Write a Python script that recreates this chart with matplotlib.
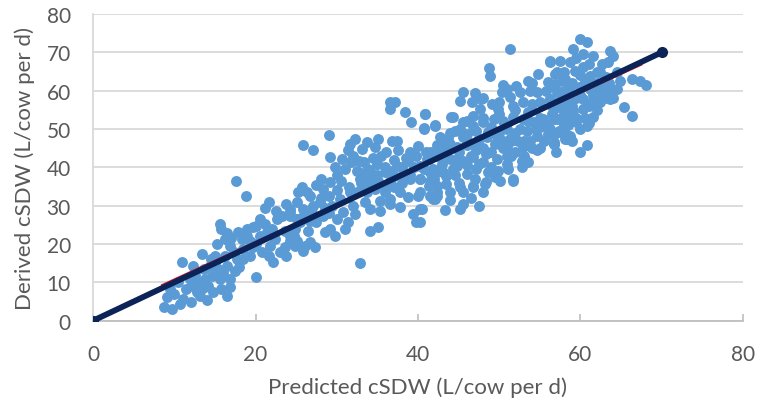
import matplotlib
matplotlib.use("Agg")
import matplotlib.pyplot as plt
import numpy as np

# predicted vs derived cSDW
band_low = [
    (17.6, 36.5), (18.8, 32.4), (21.6, 30.9), (21.2, 29.3), (23.8, 30.4), (25.2, 33.5),
    (15.6, 25.2), (15.8, 23.9), (17.9, 23.1), (18.9, 23.9), (20.1, 24.8), (16.2, 21.3),
    (15.2, 20.0), (19.3, 20.9), (20.6, 22.2), (22.6, 26.5), (23.2, 27.4), (24.2, 29.1),
    (25.1, 26.5), (24.7, 22.2), (23.0, 17.8), (22.2, 15.2), (21.6, 17.0), (20.1, 11.3),
    (13.4, 17.4), (10.9, 15.2), (12.3, 14.3), (13.6, 13.5), (14.6, 11.7), (15.4, 13.5),
    (16.5, 14.3), (16.9, 10.9), (15.8, 8.3), (12.8, 7.4), (11.1, 5.7), (12.1, 4.8),
    (9.5, 8.3), (8.7, 3.5), (9.7, 3.1), (9.1, 6.1), (10.7, 4.4), (13.2, 6.5),
    (14.2, 9.1), (14.8, 7.4), (17.7, 16.1), (18.5, 18.7), (17.3, 17.8), (19.3, 17.0),
    (20.8, 17.8), (21.8, 19.6), (23.6, 19.1), (23.8, 17.0), (25.1, 20.9), (11.9, 10.9),
    (10.5, 10.0), (13.8, 10.9), (13.0, 10.0), (15.6, 10.9), (14.4, 14.3), (15.0, 17.0),
    (16.2, 17.0), (16.9, 19.6), (18.3, 21.3), (19.7, 19.1), (21.4, 23.1), (22.4, 21.3),
    (23.6, 23.5), (21.2, 25.2), (19.7, 24.4), (17.5, 13.0), (16.9, 8.7), (16.5, 6.5),
    (11.5, 8.3), (12.5, 12.0), (14.0, 5.5), (16.0, 12.5), (18.0, 14.0), (19.0, 22.0),
    (20.0, 20.0), (22.0, 24.0), (13.5, 8.5), (15.0, 15.0), (17.0, 21.5), (18.5, 16.0),
    (12.0, 9.0), (14.5, 16.0), (20.5, 26.5), (22.5, 28.5), (16.5, 23.0), (10.0, 7.0),
]

band_mid = [
    (36.6, 57.0), (37.2, 57.0), (36.6, 55.2), (38.4, 54.4), (39.2, 51.9), (40.9, 53.9),
    (40.7, 50.2), (42.1, 51.1), (29.1, 48.4), (25.8, 45.7), (27.1, 44.4), (29.2, 42.6),
    (32.2, 47.4), (31.6, 46.1), (33.7, 46.5), (35.1, 47.4), (36.8, 47.0), (37.4, 47.0),
    (31.4, 44.4), (33.1, 44.8), (34.7, 45.2), (36.1, 43.9), (30.6, 42.2), (31.8, 41.3),
    (33.3, 41.3), (29.8, 40.0), (31.0, 39.6), (32.5, 39.1), (34.1, 39.1), (37.4, 40.4),
    (38.8, 41.7), (39.8, 43.0), (41.3, 42.2), (42.3, 43.0), (42.3, 44.8), (28.1, 37.0),
    (29.2, 36.1), (28.3, 34.4), (25.7, 34.8), (26.3, 33.5), (32.9, 37.0), (34.1, 36.5),
    (35.1, 36.5), (31.6, 33.5), (32.5, 33.5), (33.7, 33.5), (37.0, 37.8), (38.2, 38.3),
    (39.0, 37.0), (40.2, 37.0), (41.5, 36.5), (42.3, 35.2), (37.8, 33.5), (38.8, 32.2),
    (40.0, 32.6), (35.3, 31.3), (36.6, 30.4), (37.8, 29.6), (40.2, 29.1), (39.4, 27.8),
    (39.8, 25.7), (32.0, 30.0), (32.2, 27.8), (31.4, 25.7), (30.4, 31.8), (29.4, 30.0),
    (27.9, 30.9), (26.7, 32.6), (27.1, 30.0), (25.9, 29.1), (25.1, 30.9), (24.2, 28.3),
    (25.1, 26.5), (28.6, 23.1), (29.8, 22.2), (29.2, 23.9), (26.1, 19.6), (27.3, 19.1),
    (26.7, 20.5), (25.9, 18.3), (24.2, 20.9), (24.9, 19.6), (34.1, 23.5), (35.1, 24.4),
    (32.8, 15.1), (32.7, 41.7), (33.9, 39.6), (34.9, 40.9), (35.9, 38.7), (36.6, 39.1),
    (35.5, 43.0), (34.7, 34.4), (35.9, 33.5), (35.3, 28.7), (36.6, 31.8), (33.5, 30.9),
    (34.1, 29.1), (42.3, 38.7), (41.5, 38.7), (40.7, 39.6), (42.3, 32.6), (24.2, 27.4),
    (25.5, 25.7), (26.7, 26.1), (24.9, 23.9), (24.2, 22.2), (27.5, 25.7), (28.3, 27.4),
    (30.0, 26.5), (30.8, 28.3), (31.0, 23.9), (39.0, 44.0), (38.0, 40.0), (37.0, 42.0),
    (36.0, 40.0), (35.0, 41.0), (34.0, 37.0), (33.0, 36.0), (36.0, 35.0), (38.0, 36.0),
    (37.0, 35.0), (39.0, 38.0), (30.0, 34.0), (28.0, 32.0), (27.0, 28.0), (29.0, 28.0),
    (26.0, 27.5), (28.5, 29.5), (30.5, 36.5), (31.5, 35.0), (33.0, 38.5), (35.0, 38.0),
    (37.5, 44.5), (38.5, 42.5), (40.0, 45.5), (39.5, 40.0), (36.5, 36.5), (34.5, 42.5),
    (32.0, 43.0), (30.0, 38.0), (27.5, 35.5), (26.5, 23.5), (29.0, 32.5), (33.5, 34.5),
]

band_high = [
    (48.8, 65.8), (48.9, 63.9), (56.2, 67.8), (45.6, 59.6), (45.2, 57.4), (54.8, 64.4),
    (53.6, 62.6), (56.9, 64.4), (57.7, 62.6), (56.0, 62.2), (50.3, 59.6), (50.9, 60.5),
    (52.1, 61.3), (52.6, 59.6), (51.3, 58.3), (53.8, 60.0), (54.6, 59.6), (55.8, 60.0),
    (57.1, 59.6), (58.1, 60.0), (46.6, 57.0), (47.8, 57.8), (49.1, 56.5), (47.6, 55.2),
    (46.8, 53.5), (49.9, 55.2), (51.7, 56.1), (52.9, 57.0), (55.0, 57.0), (56.2, 57.8),
    (57.9, 57.0), (42.1, 50.9), (44.1, 53.1), (45.6, 51.8), (46.8, 50.9), (48.0, 51.8),
    (49.3, 52.6), (50.5, 52.2), (51.7, 53.1), (52.9, 52.6), (54.2, 51.8), (55.4, 52.6),
    (56.7, 52.6), (57.9, 51.8), (58.5, 53.5), (42.7, 47.8), (44.6, 49.6), (46.0, 48.7),
    (47.2, 49.6), (48.6, 49.2), (49.7, 48.3), (51.3, 47.4), (52.3, 47.0), (53.4, 49.6),
    (54.6, 48.3), (56.0, 48.7), (57.3, 49.6), (58.3, 48.3), (53.8, 47.0), (52.9, 45.2),
    (54.6, 44.4), (56.7, 46.1), (58.3, 47.4), (42.3, 45.7), (43.5, 44.8), (44.8, 45.2),
    (46.0, 45.7), (47.2, 44.4), (48.4, 43.5), (41.5, 43.9), (42.7, 43.0), (43.9, 42.2),
    (45.6, 41.7), (46.8, 42.6), (48.0, 41.3), (49.7, 42.2), (50.9, 43.0), (51.5, 43.0),
    (52.8, 41.7), (53.6, 41.3), (41.9, 39.6), (43.1, 38.7), (44.3, 39.6), (46.0, 38.3),
    (47.2, 39.6), (48.6, 38.7), (49.9, 39.1), (51.1, 39.6), (51.7, 36.5), (52.8, 40.0),
    (42.3, 35.2), (43.5, 35.7), (45.2, 34.8), (46.8, 34.8), (48.3, 35.7), (41.5, 32.6),
    (42.1, 31.7), (43.3, 29.0), (45.2, 29.1), (45.6, 30.4), (47.5, 30.0), (43.9, 33.5),
    (45.6, 33.5), (51.3, 70.9), (40.9, 53.9), (40.7, 50.1), (44.3, 53.1), (45.2, 50.0),
    (43.7, 47.4), (41.1, 42.2), (40.2, 40.4), (41.5, 38.7), (42.7, 39.6), (43.5, 37.8),
    (44.8, 40.4), (40.2, 37.0), (41.3, 35.2), (42.3, 33.5), (40.2, 33.5), (41.9, 31.7),
    (40.5, 29.1), (40.2, 25.7), (46.8, 35.2), (48.4, 36.1), (50.1, 36.5), (51.7, 37.0),
    (44.5, 42.0), (44.0, 46.0), (45.0, 44.0), (45.5, 48.0), (46.5, 43.0), (46.0, 47.0),
    (47.0, 46.0), (47.5, 41.0), (48.0, 45.0), (48.5, 48.0), (49.0, 44.0), (49.5, 46.0),
    (50.0, 49.0), (50.5, 45.0), (51.0, 50.0), (51.5, 47.0), (52.0, 44.0), (52.5, 50.0),
    (53.0, 47.0), (53.5, 52.0), (54.0, 45.0), (54.5, 50.0), (55.0, 53.0), (55.5, 47.0),
    (56.0, 51.0), (56.5, 54.0), (57.0, 49.0), (57.5, 57.0), (58.0, 54.0), (58.5, 51.0),
    (52.0, 55.0), (50.0, 54.0), (48.0, 53.0), (46.0, 52.0), (44.0, 49.0), (53.0, 43.0),
    (51.0, 41.0), (49.0, 40.0), (47.0, 37.0), (45.0, 36.0), (55.0, 45.0), (57.0, 44.0),
    (43.0, 41.0), (42.0, 37.0), (41.0, 44.0), (50.0, 57.0), (48.0, 58.0), (54.0, 62.0),
    (43.0, 46.5), (44.5, 38.0), (46.0, 40.5), (47.5, 47.5), (49.0, 50.5), (50.5, 47.0),
    (52.0, 49.0), (53.5, 54.5), (55.0, 50.5), (56.5, 56.0), (54.0, 56.5), (51.0, 45.0),
    (49.5, 37.5), (48.0, 33.5), (44.0, 31.5), (46.5, 32.0), (50.5, 61.5), (47.0, 59.5),
]

band_top = [
    (59.9, 73.5), (60.8, 72.6), (59.1, 70.9), (60.3, 69.6), (61.6, 69.1), (63.6, 70.4),
    (64.0, 69.1), (58.7, 67.4), (57.5, 67.8), (56.2, 67.4), (62.6, 67.0), (63.4, 67.4),
    (59.3, 65.2), (60.3, 66.1), (61.2, 63.9), (62.4, 64.8), (63.2, 63.5), (57.1, 64.8),
    (58.1, 63.1), (56.9, 61.7), (58.7, 61.3), (59.9, 60.9), (61.2, 60.5), (64.5, 64.8),
    (64.9, 62.6), (66.3, 63.1), (67.3, 62.6), (68.1, 61.5), (63.4, 60.0), (64.5, 60.5),
    (62.6, 59.1), (65.3, 55.7), (66.3, 53.5), (56.2, 61.3), (57.5, 59.6), (56.2, 57.8),
    (57.5, 57.4), (58.7, 58.7), (60.3, 57.8), (61.6, 57.4), (62.4, 57.0), (63.6, 57.8),
    (56.7, 55.2), (57.9, 55.2), (59.1, 54.8), (60.3, 55.2), (61.6, 53.1), (57.1, 52.6),
    (58.3, 52.2), (59.5, 51.8), (60.8, 50.9), (56.2, 50.0), (57.5, 49.2), (58.7, 48.3),
    (59.9, 50.0), (56.7, 46.1), (58.1, 47.4), (59.9, 43.9), (60.8, 45.7), (56.7, 46.5),
    (58.3, 47.4), (59.0, 56.0), (59.5, 53.0), (60.0, 59.0), (60.5, 53.0), (61.0, 56.0),
    (61.5, 59.0), (62.0, 55.0), (62.5, 61.0), (63.0, 58.0), (63.5, 62.0), (58.0, 65.0),
    (59.0, 62.0), (60.0, 64.0), (61.0, 62.0), (62.0, 65.0), (61.0, 67.0), (59.5, 68.5),
    (58.0, 59.0), (60.0, 61.0), (62.0, 62.0), (63.0, 60.0), (64.0, 58.0), (59.0, 47.0),
    (58.5, 56.5), (60.5, 62.5), (62.0, 60.0), (59.5, 58.0), (58.0, 50.0), (61.0, 51.5),
]

# 1:1 reference line and the fitted trend line (red, mostly hidden)
ref_x = [0, 70]
ref_y = [0, 70]
trend_x = [8.5, 67.5]
trend_y = [9.3, 66.8]

all_pts = np.array(band_low + band_mid + band_high + band_top)

plt.rcParams['font.family'] = ['Lato', 'DejaVu Sans']

fig = plt.figure(figsize=(7.65, 4.10), dpi=100)
ax = fig.add_axes([0.1216, 0.2154, 0.8496, 0.748])

ax.scatter(all_pts[:, 0], all_pts[:, 1], s=62, color='#5B9BD5', linewidths=0, zorder=3)
ax.plot(trend_x, trend_y, color='#E8202A', lw=1.5, zorder=3.5)
ax.plot(ref_x, ref_y, color='#0B2357', lw=4.2, marker='o', markersize=7,
        solid_capstyle='round', zorder=4)

ax.set_xlim(0, 80)
ax.set_ylim(0, 80)
ax.set_xticks(np.arange(0, 81, 20))
ax.set_yticks(np.arange(0, 81, 10))
ax.yaxis.grid(True, color='#D9D9D9', lw=1.3)
ax.set_axisbelow(True)

for s in ['top', 'right']:
    ax.spines[s].set_visible(False)
ax.spines['left'].set_color('#D9D9D9')
ax.spines['left'].set_linewidth(1.3)
ax.spines['bottom'].set_color('#BFBFBF')
ax.spines['bottom'].set_linewidth(1.3)

ax.tick_params(axis='x', direction='in', length=5, width=1.2, color='#BFBFBF',
               labelsize=15, labelcolor='#595959', pad=17)
ax.tick_params(axis='y', length=0, labelsize=15, labelcolor='#595959', pad=16)

ax.set_xlabel('Predicted cSDW (L/cow per d)', fontsize=16, color='#595959', labelpad=9)
ax.set_ylabel('Derived cSDW (L/cow per d)', fontsize=16, color='#595959', labelpad=8)

fig.savefig('out.png', dpi=100)
